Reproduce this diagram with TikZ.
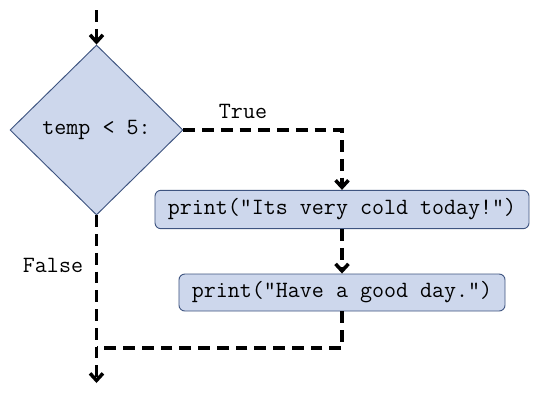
\documentclass[tikz,border=0pt]{standalone}
\usetikzlibrary{shapes.geometric, arrows.meta, positioning}
\definecolor{flowfill}{RGB}{205,215,236}
\definecolor{flowblue}{RGB}{62,84,128}

\begin{document}
\begin{tikzpicture}[
    x=0.03cm, y=-0.03cm,
    every node/.style={font=\ttfamily\fontsize{19.9}{23}\selectfont},
    decision/.style={diamond, draw=flowblue, fill=flowfill, inner sep=0pt,
        line width=0.8pt, minimum width=5.19cm, minimum height=5.1cm},
    stmt/.style={rectangle, draw=flowblue, fill=flowfill, rounded corners=5pt,
        line width=0.8pt, minimum height=1.15cm},
    link/.style={line width=3pt, dash pattern=on 10pt off 6pt},
    arrow/.style={link, -{Straight Barb[length=6pt,width=11pt]}}
]
    \useasboundingbox (0,0) rectangle (541,409);

    % Decision
    \coordinate (start) at (96.5,10);
    \node[decision] (cond) at (96.5,130) {temp < 5:};

    % Statements
    \node[stmt, minimum width=11.22cm] (cold) at (342,209.5) {print("Its very cold today!")};
    \node[stmt, minimum width=9.78cm, minimum height=1.11cm] (good) at (342,292.5) {print("Have a good day.")};

    % Labels
    \node (truelbl) at (243,111) {True};
    \node (falselbl) at (53,265) {False};

    \coordinate (join) at (96.5,348);
    \coordinate (end) at (96.5,383);

    % Arrows
    \draw[arrow] (start) -- (cond.north);
    \draw[arrow] (cond.east) -| (cold.north);
    \draw[arrow] (cold) -- (good);
    \draw[link] (good.south) |- (join);
    \draw[arrow] (cond.south) -- (end);
\end{tikzpicture}
\end{document}
